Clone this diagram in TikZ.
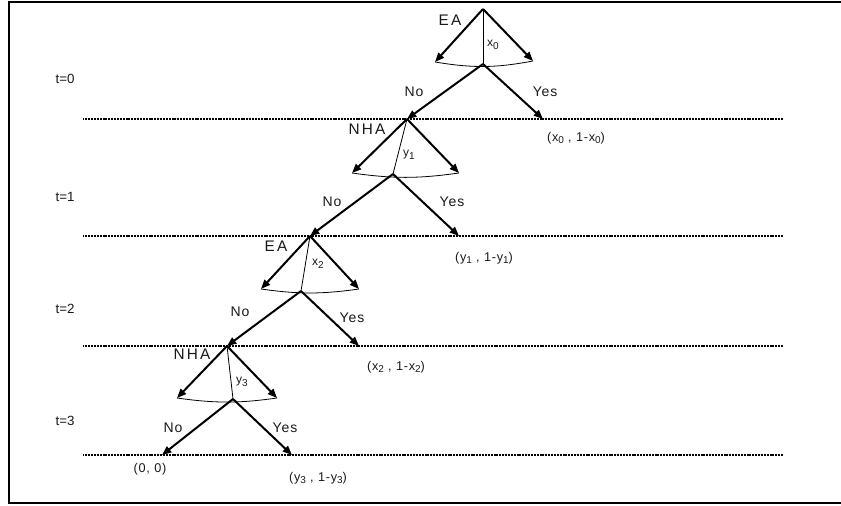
\documentclass[tikz,border=0pt]{standalone}
\usepackage{fontspec}
\setmainfont{Liberation Sans}
\usetikzlibrary{arrows.meta}
\newfontfamily\spacedfont[LetterSpace=14]{Liberation Sans}
\newfontfamily\midfont[LetterSpace=6]{Liberation Sans}
\newcommand{\lowsub}[1]{\raisebox{-0.4ex}{\fontsize{7.5}{8}\selectfont #1}}
\begin{document}
\begin{tikzpicture}[x=0.75pt,y=-0.75pt,
  arr/.style={line width=1.5pt,-{Triangle[length=7pt,width=5.5pt]}},
  thin/.style={line width=0.6pt},
  level/.style={line width=1.3pt,dash pattern=on 0.8pt off 0.35pt},
  player/.style={font=\fontsize{11.5}{13}\selectfont\spacedfont,inner sep=0pt,text=black!90},
  choice/.style={font=\fontsize{10.5}{12}\selectfont\midfont,inner sep=0pt,text=black!90},
  share/.style={font=\fontsize{9}{10}\selectfont,inner sep=0pt,text=black!90},
  pay/.style={font=\fontsize{9.5}{11}\selectfont\midfont,inner sep=0pt,text=black!90},
  tlab/.style={font=\fontsize{10}{12}\selectfont,inner sep=0pt,text=black!90}]
\useasboundingbox (0,0) rectangle (841,506);
% frame
\draw[line width=1.2pt] (841,2) -- (9,2) -- (9,503) -- (841,503);
% level lines
\coordinate (l1a) at (83,119); \coordinate (l1b) at (783,119);
\coordinate (l2a) at (83,236); \coordinate (l2b) at (783,236);
\coordinate (l3a) at (83,346); \coordinate (l3b) at (783,346);
\coordinate (l4a) at (83,455); \coordinate (l4b) at (783,455);
\draw[level] (l1a) -- (l1b);
\draw[level] (l2a) -- (l2b);
\draw[level] (l3a) -- (l3b);
\draw[level] (l4a) -- (l4b);
% time labels
\node[tlab] (t0) at (65,79) {t=0};
\node[tlab] (t1) at (65,197) {t=1};
\node[tlab] (t2) at (65,309) {t=2};
\node[tlab] (t3) at (65,421) {t=3};
% stage 0
\coordinate (A0) at (483,9);
\coordinate (L0) at (435,62);
\coordinate (R0) at (533,61);
\coordinate (C0) at (483,64);
\coordinate (Y0) at (543,119);
% stage 1
\coordinate (A1) at (407,119);
\coordinate (L1) at (352,173);
\coordinate (R1) at (459,173);
\coordinate (C1) at (393,174);
\coordinate (Y1) at (459,236);
% stage 2
\coordinate (A2) at (310,236);
\coordinate (L2) at (261,289);
\coordinate (R2) at (359,289);
\coordinate (C2) at (301,291);
\coordinate (Y2) at (359,346);
% stage 3
\coordinate (A3) at (227,346);
\coordinate (L3) at (177,398);
\coordinate (R3) at (277,398);
\coordinate (C3) at (233,399);
\coordinate (N3) at (162,455);
\coordinate (Y3) at (292,455);
% arcs and share lines
\draw[thin] (L0) to[bend right=10] (R0);
\draw[thin] (L1) to[bend right=8] (R1);
\draw[thin] (L2) to[bend right=8] (R2);
\draw[thin] (L3) to[bend right=8] (R3);
\draw[thin] (A0) -- (C0);
\draw[thin] (A1) -- (C1);
\draw[thin] (A2) -- (C2);
\draw[thin] (A3) -- (C3);
% offer arrows
\draw[arr] (A0) -- (L0);
\draw[arr] (A0) -- (R0);
\draw[arr] (A1) -- (L1);
\draw[arr] (A1) -- (R1);
\draw[arr] (A2) -- (L2);
\draw[arr] (A2) -- (R2);
\draw[arr] (A3) -- (L3);
\draw[arr] (A3) -- (R3);
% response arrows
\draw[arr] (C0) -- (A1);
\draw[arr] (C0) -- (Y0);
\draw[arr] (C1) -- (A2);
\draw[arr] (C1) -- (Y1);
\draw[arr] (C2) -- (A3);
\draw[arr] (C2) -- (Y2);
\draw[arr] (C3) -- (N3);
\draw[arr] (C3) -- (Y3);
% player labels
\node[player] (p0) at (450,20) {EA};
\node[player] (p1) at (367,129) {NHA};
\node[player] (p2) at (276,246) {EA};
\node[player] (p3) at (192,354) {NHA};
% share labels
\node[share] (s0) at (493,45) {x\lowsub{0}};
\node[share] (s1) at (409,155) {y\lowsub{1}};
\node[share] (s2) at (318,264) {x\lowsub{2}};
\node[share] (s3) at (242,382) {y\lowsub{3}};
% choice labels
\node[choice] (n0) at (414,92) {No};
\node[choice] (y0) at (545,92) {Yes};
\node[choice] (n1) at (332,202) {No};
\node[choice] (y1) at (452,202) {Yes};
\node[choice] (n2) at (240,312) {No};
\node[choice] (y2) at (352,318) {Yes};
\node[choice] (n3) at (173,428) {No};
\node[choice] (y3) at (285,428) {Yes};
% payoffs
\node[pay] (q0) at (576,138) {(x\lowsub{0} , 1-x\lowsub{0})};
\node[pay] (q1) at (484,258) {(y\lowsub{1} , 1-y\lowsub{1})};
\node[pay] (q2) at (396,367) {(x\lowsub{2} , 1-x\lowsub{2})};
\node[pay] (q3) at (150,469) {(0, 0)};
\node[pay] (q4) at (318,478) {(y\lowsub{3} , 1-y\lowsub{3})};
\end{tikzpicture}
\end{document}
